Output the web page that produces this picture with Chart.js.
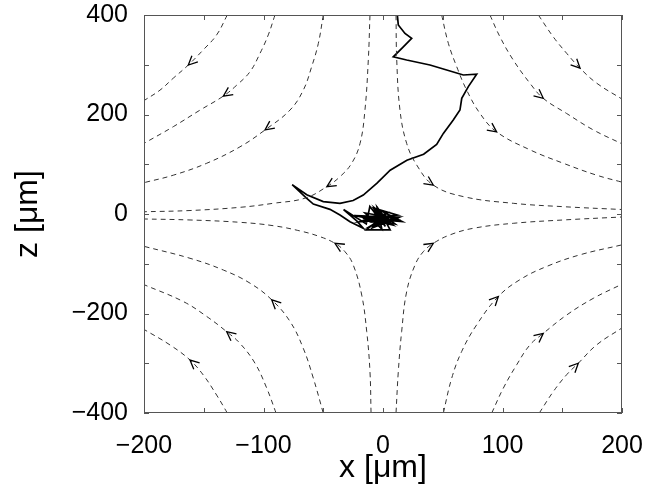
<!DOCTYPE html>
<html>
<head>
<meta charset="utf-8">
<script src="https://cdn.jsdelivr.net/npm/chart.js@4/dist/chart.umd.min.js"></script>
<style>
html, body { margin: 0; padding: 0; background: #fff; }
</style>
</head>
<body>
<canvas id="myChart" width="658" height="489"></canvas>
<script>
// axis ticks (minor ticks drawn inward, labels only on some)
var xTicks = [-200, -150, -100, -50, 0, 50, 100, 150, 200];
var xLabels = [-200, -100, 0, 100, 200];
var zTicks = [-400, -300, -200, -100, 0, 100, 200, 300, 400];
var zLabels = [-400, -200, 0, 200, 400];

// streamlines: [x, z] in um
// upper left, from top edge towards left edge
var streamUL1 = [[-10.9,400],[-12.3,309.5],[-15.1,209],[-19.2,142],[-26.2,102],[-36,75],[-47,55],[-65,32],[-91.8,21.5],[-119.7,13.4],[-161.5,7],[-200,4.5]];
var streamUL2 = [[-50,400],[-54.1,343],[-59.7,296],[-66.7,249],[-77.8,209],[-98.7,169],[-119.7,135],[-147.5,102],[-175.5,78],[-200,63]];
var streamUL3 = [[-90.4,400],[-96,360],[-102.9,323],[-111.3,286],[-122.4,259],[-133.6,237],[-153,209],[-175.5,175.5],[-200,142]];
var streamUL4 = [[-130.3,400],[-139.2,360],[-150.4,330],[-162.9,299.5],[-175.5,273],[-186.6,249],[-200,228]];
// upper right
var streamUR1 = [[10.9,400],[11.5,309.5],[14.2,209],[19.8,142],[28.2,98.5],[42.1,58],[67.2,35],[109,21.5],[150.9,14.7],[200,9]];
var streamUR2 = [[49.1,400],[54.7,343],[61.7,296],[70,249],[81.2,202],[95.1,165],[123,129],[150.9,102],[178.8,78],[200,64]];
var streamUR3 = [[89.5,400],[97.9,356],[109,309.5],[123,262.7],[134.1,232.5],[153.7,202],[176,169],[200,141]];
var streamUR4 = [[130,400],[142.5,356],[153.7,323],[164.9,293],[178.8,263],[200,231]];
// lower left, from bottom edge towards left edge
var streamLL1 = [[-10,-400],[-10.9,-317],[-13.6,-236.6],[-17.8,-163],[-24.9,-102.5],[-31.8,-75.8],[-40.2,-59],[-52.7,-45.6],[-69.5,-34],[-91.8,-23.5],[-119.7,-16.7],[-161.5,-12],[-200,-10]];
var streamLL2 = [[-50,-400],[-58.3,-330],[-66.7,-270],[-77.8,-216],[-93.1,-172.5],[-111.3,-139],[-133.6,-112.6],[-161.5,-89],[-200,-65]];
var streamLL3 = [[-89.5,-400],[-97.3,-350],[-107.1,-300],[-119.7,-260],[-130.8,-236.6],[-147.5,-206],[-167.1,-176],[-200,-142]];
var streamLL4 = [[-130.3,-400],[-139.2,-364],[-150.4,-323.6],[-161.5,-293.5],[-178.2,-263.3],[-200,-232]];
// lower right
var streamLR1 = [[10.9,-400],[12.8,-317],[15.6,-236.6],[19.8,-156],[26.8,-102.5],[33.7,-75.8],[42.1,-59],[56,-42],[75.6,-28.7],[109,-18.7],[150.9,-12],[200,-6]];
var streamLR2 = [[50.5,-400],[57.5,-330],[65.9,-276],[78.4,-222.7],[96.5,-165.8],[114.6,-132],[136.9,-105.5],[164.9,-82],[200,-62]];
var streamLR3 = [[91,-400],[100.7,-350],[111.9,-303],[123,-263],[134.1,-240],[153.7,-203],[176,-169.5],[200,-141]];
var streamLR4 = [[130.8,-400],[142.5,-357],[153.7,-323],[163.4,-300],[178.8,-263],[200,-229]];

// which point of each streamline carries the flow arrow
var arrowAt = [6, 5, 5, 3, 5, 5, 4, 3, 6, 4, 4, 3, 6, 4, 4, 3];

// particle trajectory: from the top edge down to the stagnation point
var trajectory = [[12,400],[12.8,380],[18.4,363],[24,353],[17,336],[8.6,316],[19.8,309.5],[39.3,299.5],[53.3,289.4],[67.2,279.4],[78.4,281],
  [71.4,256],[65.9,232.5],[64.4,209],[58.8,189],[50.5,162],[44.9,140],[34,120],[20,108],[6,88],[-5,62],[-16.5,38],[-25,27],[-36,21.5],
  [-50,25],[-63.8,38.6],[-76,59],[-63.8,31.6],[-58.3,20],[-44.4,9.4],[-36,-2],[-27.6,-15.5],[-16.5,-28.7],
  [-22,-14],[-33,9],[-14,-20],[-11,15],[2,-25],[-8,12],[12,-2],[-17,-9],[16,-15],[-3,8],[6,-32],[-14,-32],[3,1],
  [-19,-15],[8,-12],[-11,-25],[0,-9],[-6,10],[10,-20],[-20,-5],[14,-6],[-9,-28],[-2,-5],[-24,-3],[5,-18],[-5,14],
  [-1,-30],[-15,2],[9,-8],[-7,-20],[-3,-10],[-12,-6],[6,-14],[-8,-16],[4,-4],[-10,-12],[8,-22],[-4,-2],[2,-16],
  [-14,-10],[11,-12],[-6,-24],[1,-6]];

var streams = [streamUL1, streamUL2, streamUL3, streamUL4, streamUR1, streamUR2, streamUR3, streamUR4,
               streamLL1, streamLL2, streamLL3, streamLL4, streamLR1, streamLR2, streamLR3, streamLR4];

function pts(arr) {
    return arr.map(function (p) { return {x: p[0], y: p[1]}; });
}
function fmt(v) {
    return v < 0 ? '\u2212' + Math.abs(v) : String(v);
}

var datasets = streams.map(function (s, i) {
    return {
        data: pts(s),
        showLine: true,
        borderColor: '#333',
        borderWidth: 1,
        borderDash: [5, 4],
        tension: 0.4,
        pointRadius: 0,
        fill: false,
        arrowAt: arrowAt[i]
    };
});
datasets.push({
    data: pts(trajectory),
    showLine: true,
    borderColor: '#000',
    borderWidth: 1.7,
    tension: 0,
    pointRadius: 0,
    fill: false
});

// box around the plot, inward ticks on all four sides, flow arrows
var frame = {
    id: 'frame',
    afterDatasetsDraw: function (chart) {
        var ctx = chart.ctx, a = chart.chartArea;
        var xs = chart.scales.x, ys = chart.scales.y;
        ctx.save();
        ctx.strokeStyle = '#555';
        ctx.lineWidth = 1;
        ctx.setLineDash([]);
        ctx.strokeRect(a.left + 0.5, a.top + 0.5, a.right - a.left - 1, a.bottom - a.top - 1);
        ctx.beginPath();
        xTicks.forEach(function (v) {
            var px = Math.round(xs.getPixelForValue(v)) + 0.5;
            ctx.moveTo(px, a.bottom); ctx.lineTo(px, a.bottom - 5);
            ctx.moveTo(px, a.top); ctx.lineTo(px, a.top + 5);
        });
        zTicks.forEach(function (v) {
            var py = Math.round(ys.getPixelForValue(v)) + 0.5;
            ctx.moveTo(a.left, py); ctx.lineTo(a.left + 5, py);
            ctx.moveTo(a.right, py); ctx.lineTo(a.right - 5, py);
        });
        ctx.stroke();

        ctx.strokeStyle = '#000';
        ctx.lineWidth = 1.3;
        chart.data.datasets.forEach(function (ds, i) {
            if (ds.arrowAt === undefined) return;
            var el = chart.getDatasetMeta(i).data;
            var k = ds.arrowAt;
            var p0 = el[k - 1], p = el[k], p1 = el[k + 1];
            var ang = Math.atan2(p1.y - p0.y, p1.x - p0.x);
            var len = 10, spread = 0.45;
            ctx.beginPath();
            ctx.moveTo(p.x - len * Math.cos(ang - spread), p.y - len * Math.sin(ang - spread));
            ctx.lineTo(p.x, p.y);
            ctx.lineTo(p.x - len * Math.cos(ang + spread), p.y - len * Math.sin(ang + spread));
            ctx.stroke();
        });
        ctx.restore();
    }
};

var ctx = document.getElementById('myChart');
var myChart = new Chart(ctx, {
    type: 'scatter',
    data: { datasets: datasets },
    options: {
        responsive: false,
        animation: false,
        layout: { padding: 0 },
        plugins: { legend: { display: false }, tooltip: { enabled: false } },
        scales: {
            x: {
                type: 'linear',
                min: -200, max: 200,
                afterBuildTicks: function (s) { s.ticks = xTicks.map(function (v) { return {value: v}; }); },
                afterFit: function (s) { s.height = 76; s.paddingLeft = 0; s.paddingRight = 36; },
                grid: { display: false, drawTicks: false },
                border: { display: false },
                ticks: {
                    autoSkip: false, maxRotation: 0, padding: 18, color: '#000',
                    font: { family: 'Liberation Sans', size: 25 },
                    callback: function (v) { return xLabels.indexOf(v) >= 0 ? fmt(v) : ''; }
                },
                title: {
                    display: true, text: 'x [\u03bcm]', color: '#000',
                    font: { family: 'Liberation Sans', size: 32 },
                    padding: { top: 0, bottom: 2 }
                }
            },
            y: {
                type: 'linear',
                min: -400, max: 400,
                afterBuildTicks: function (s) { s.ticks = zTicks.map(function (v) { return {value: v}; }); },
                afterFit: function (s) { s.width = 144; s.paddingTop = 15; s.paddingBottom = 0; },
                grid: { display: false, drawTicks: false },
                border: { display: false },
                ticks: {
                    autoSkip: false, padding: 16, color: '#000',
                    font: { family: 'Liberation Sans', size: 25 },
                    callback: function (v) { return zLabels.indexOf(v) >= 0 ? fmt(v) : ''; }
                },
                title: {
                    display: true, text: 'z [\u03bcm]', color: '#000',
                    font: { family: 'Liberation Sans', size: 32 },
                    padding: { top: 9, bottom: 0 }
                }
            }
        }
    },
    plugins: [frame]
});
</script>
</body>
</html>
